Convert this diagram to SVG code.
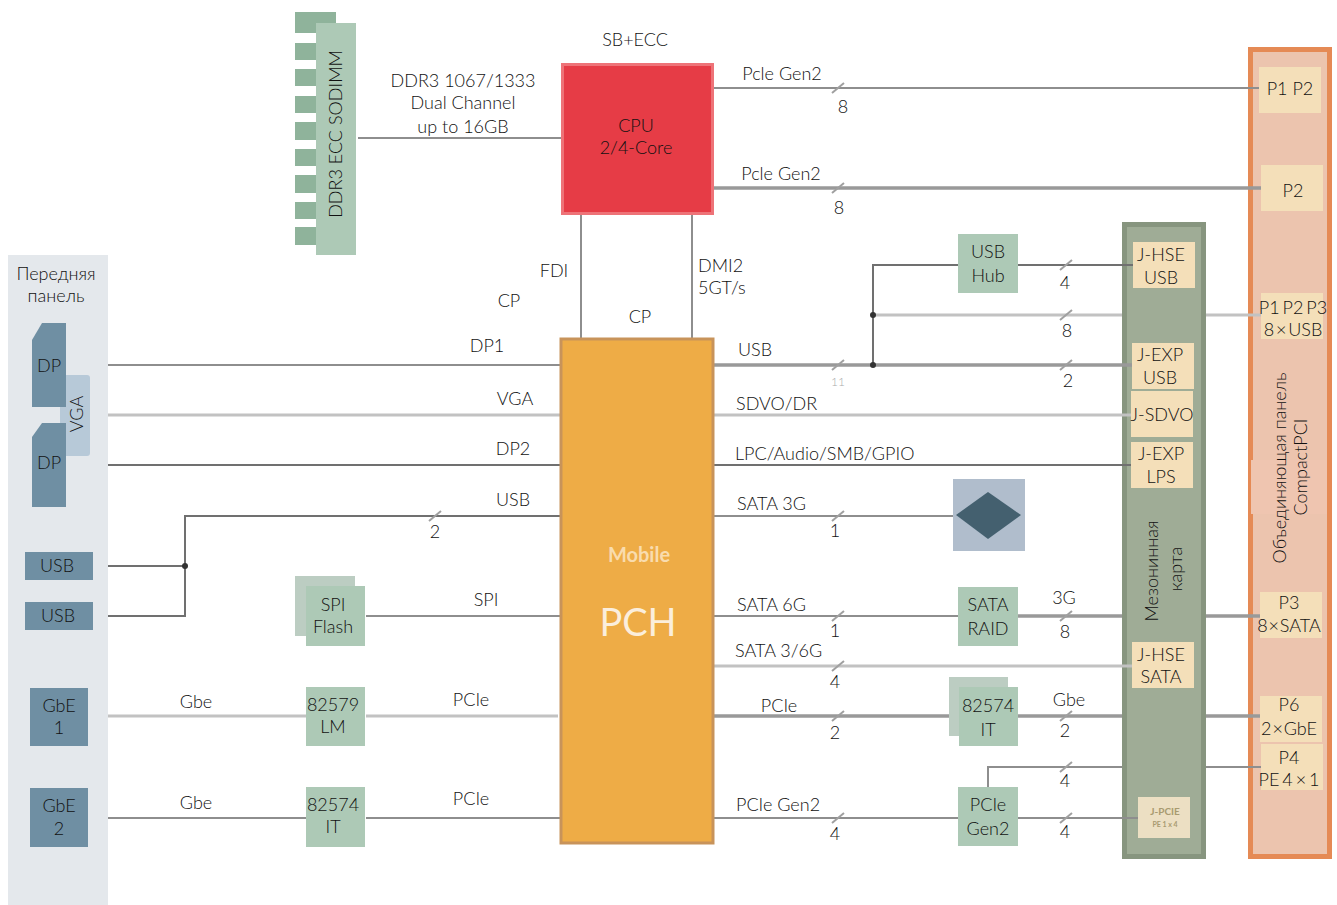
<svg xmlns="http://www.w3.org/2000/svg" width="1337" height="905" viewBox="0 0 1337 905">
<style>
text{font-family:"Lato","Open Sans","Liberation Sans",sans-serif;font-size:18px;font-weight:300;fill:#111;text-anchor:middle}
.s{text-anchor:start}
.g{fill:#adc9b6;stroke:none}
.gb{fill:#bccdc2;stroke:none}
.b{fill:#6f8fa3;stroke:none}
.t{fill:#f4dfb9;stroke:none}
#connectors path{fill:none;stroke:#8e8e8e;stroke-width:2}
#connectors .th{stroke-width:3.5;stroke:#999}
#connectors .d{stroke:#707070;stroke-width:2}
#connectors .l{stroke:#c2c2c2;stroke-width:3}
#connectors .sl{stroke:#a0a0a0;stroke-width:2}
#connectors circle{fill:#333}
</style>
<rect width="1337" height="905" fill="#fff"/>
<g id="front-panel">
<rect x="8" y="255" width="100" height="650" fill="#e4e8ec"/>
<text x="56" y="280">Передняя</text><text x="56" y="302">панель</text>
</g>
<g id="vga"><rect x="60" y="375" width="30" height="81" rx="3" fill="#b7c9d8"/><text transform="translate(83,414) rotate(-90)">VGA</text></g>
<g id="dp1"><path d="M42 323H66V407H32V340Z" fill="#6f8fa3"/><text x="49" y="372">DP</text></g>
<g id="dp2"><path d="M42 423H66V507H32V437Z" fill="#6f8fa3"/><text x="49" y="469">DP</text></g>
<g id="usb1"><rect class="b" x="25" y="552" width="68" height="28"/><text x="57" y="572">USB</text></g>
<g id="usb2"><rect class="b" x="25" y="602" width="68" height="28"/><text x="58" y="622">USB</text></g>
<g id="gbe1"><rect class="b" x="30" y="688" width="58" height="58"/><text x="59" y="712">GbE</text><text x="59" y="734">1</text></g>
<g id="gbe2"><rect class="b" x="30" y="788" width="58" height="59"/><text x="59" y="812">GbE</text><text x="59" y="835">2</text></g>

<g id="mezzanine"><rect x="1124.500" y="224.500" width="79" height="632" fill="#9fac96" stroke="#87957f" stroke-width="5"/>
<text transform="translate(1158,571) rotate(-90)">Мезонинная</text><text transform="translate(1182,569) rotate(-90)">карта</text></g>
<g id="backplane"><rect x="1250.500" y="49.500" width="79" height="807" fill="#ecc4ae" stroke="#e58a55" stroke-width="5"/>
<rect x="1251" y="460" width="76" height="54" fill="#efc5b0"/>
<text transform="translate(1286,468) rotate(-90)">Объединяющая панель</text><text transform="translate(1307,467) rotate(-90)">CompactPCI</text></g>

<g id="connectors">
<path d="M358 138H561"/>
<path d="M581 214V338M692 214V338"/>
<path d="M714 88H1259"/>
<path class="th" d="M714 188H1261"/>
<path d="M108 365H560"/>
<path class="l" d="M108 415H560"/>
<path class="d" d="M108 465H560"/>
<path class="d" d="M108 566H185M108 616H185V516H560"/>
<path d="M366 616H560"/>
<path class="l" d="M108 716H306M366 716H558"/>
<path d="M108 818H306M366 818H560"/>
<path class="th" d="M714 365H1132"/>
<path class="d" d="M873 365V265H958"/>
<path class="d" d="M1018 265H1133"/>
<path class="l" d="M873 315H1122M1206 315H1261"/>
<path class="l" d="M714 415H1131"/>
<path class="d" d="M714 465H1131"/>
<path d="M714 516H953"/>
<path d="M714 616H958"/>
<path class="th" d="M1018 616H1122M1206 616H1260"/>
<path class="l" d="M714 666H1132"/>
<path class="th" d="M714 716H950M1018 716H1122M1206 716H1260"/>
<path d="M988 787V767H1122M1206 767H1261"/>
<path d="M714 818H958M1018 818H1138"/>
<path class="sl" d="M832 93L844 83M832 193L844 183M832 370L844 360M832 521L844 511M832 621L844 611M832 671L844 661M832 721L844 711M832 823L844 813M1060 270L1072 260M1060 320L1072 310M1060 370L1072 360M1060 621L1072 611M1060 721L1072 711M1060 772L1072 762M1060 823L1072 813M429 521L441 511"/>
<circle cx="873" cy="315" r="3"/><circle cx="873" cy="365" r="3"/><circle cx="185" cy="566" r="3"/>
</g>

<g id="dimm">
<path d="M295 12H336V24H316V33H295ZM295 43H316V60H295ZM295 69H316V86H295ZM295 96H316V113H295ZM295 122H316V140H295ZM295 149H316V166H295ZM295 175H316V193H295ZM295 202H316V219H295ZM295 227H316V245H295Z" fill="#8fb39b"/>
<rect class="g" x="316" y="23" width="40" height="232"/>
<text transform="translate(342,134) rotate(-90)">DDR3 ECC SODIMM</text>
</g>
<g id="cpu"><rect x="562.500" y="64.500" width="150" height="149" fill="#e63c46" stroke="#ee7378" stroke-width="3"/><text x="636" y="132">CPU</text><text x="636" y="154">2/4-Core</text></g>
<g id="pch"><rect x="561" y="339" width="152" height="504" fill="#eeac46" stroke="#c8935a" stroke-width="3"/>
<text x="639" y="562" style="font-size:20px;fill:#f9dcae;font-weight:700">Mobile</text><text x="638" y="636" style="font-size:38px;font-weight:400;fill:#fbeedc">PCH</text></g>
<g id="spi"><rect class="gb" x="295" y="576" width="60" height="60"/><rect class="g" x="306" y="586" width="59" height="60"/><text x="333" y="611">SPI</text><text x="333" y="633">Flash</text></g>
<g id="lan82579"><rect class="g" x="306" y="687" width="59" height="59"/><text x="333" y="711">82579</text><text x="333" y="733">LM</text></g>
<g id="lan82574a"><rect class="g" x="306" y="787" width="59" height="60"/><text x="333" y="811">82574</text><text x="333" y="833">IT</text></g>
<g id="usb-hub"><rect class="g" x="958" y="234" width="60" height="59"/><text x="988" y="258">USB</text><text x="988" y="282">Hub</text></g>
<g id="disk"><rect x="953" y="479" width="72" height="72" fill="#b0bdcc"/><path d="M988 492L1021 515L988 539L956 515Z" fill="#44606f"/></g>
<g id="sata-raid"><rect class="g" x="958" y="587" width="60" height="59"/><text x="988" y="611">SATA</text><text x="988" y="635">RAID</text></g>
<g id="lan82574b"><rect class="gb" x="949" y="677" width="59" height="59"/><rect class="g" x="959" y="687" width="59" height="59"/><text x="988" y="712">82574</text><text x="988" y="736">IT</text></g>
<g id="pcie-gen2"><rect class="g" x="958" y="787" width="60" height="59"/><text x="988" y="811">PCIe</text><text x="988" y="835">Gen2</text></g>

<g id="j-hse-usb"><rect class="t" x="1133" y="242" width="62" height="46"/><text x="1161" y="261">J-HSE</text><text x="1161" y="284">USB</text></g>
<g id="j-exp-usb"><rect class="t" x="1132" y="343" width="62" height="46"/><text x="1160" y="361">J-EXP</text><text x="1160" y="384">USB</text></g>
<g id="j-sdvo"><rect class="t" x="1131" y="391" width="62" height="46"/><text x="1162" y="421">J-SDVO</text></g>
<g id="j-exp-lps"><rect class="t" x="1131" y="442" width="62" height="46"/><text x="1161" y="460">J-EXP</text><text x="1161" y="483">LPS</text></g>
<g id="j-hse-sata"><rect class="t" x="1132" y="642" width="62" height="46"/><text x="1161" y="661">J-HSE</text><text x="1161" y="683">SATA</text></g>
<g id="j-pcie"><rect x="1138" y="797" width="52" height="41" fill="#ecdfc3"/><text x="1165" y="815" style="font-size:10px;font-weight:700;fill:#a89a70">J-PCIE</text><text x="1165" y="827" style="font-size:7px;font-weight:700;fill:#a89a70">PE 1 x 4</text></g>

<g id="p1p2"><rect class="t" x="1259" y="67" width="62" height="46"/><text x="1290" y="95">P1 P2</text></g>
<g id="p2"><rect class="t" x="1261" y="165" width="62" height="46"/><text x="1293" y="197">P2</text></g>
<g id="p1p2p3"><rect class="t" x="1261" y="293" width="62" height="46"/><text x="1293" y="314" word-spacing="-2">P1 P2 P3</text><text x="1293" y="336" word-spacing="-3">8 × USB</text></g>
<g id="p3"><rect class="t" x="1260" y="592" width="62" height="46"/><text x="1289" y="609">P3</text><text x="1289" y="632" word-spacing="-4">8 × SATA</text></g>
<g id="p6"><rect class="t" x="1260" y="696" width="62" height="46"/><text x="1289" y="711">P6</text><text x="1289" y="735" word-spacing="-4">2 × GbE</text></g>
<g id="p4"><rect class="t" x="1261" y="744" width="62" height="46"/><text x="1289" y="764">P4</text><text x="1289" y="786" word-spacing="-2">PE 4 × 1</text></g>

<g id="labels">
<text x="635" y="46">SB+ECC</text>
<text x="782" y="80">Pcle Gen2</text><text x="781" y="180">Pcle Gen2</text>
<text x="843" y="113">8</text><text x="839" y="214">8</text>
<text x="463" y="87">DDR3 1067/1333</text><text x="463" y="109">Dual Channel</text><text x="463" y="133">up to 16GB</text>
<text x="554" y="277">FDI</text><text x="509" y="307">CP</text><text x="640" y="323">CP</text>
<text class="s" x="698" y="272">DMI2</text><text class="s" x="698" y="294">5GT/s</text>
<text x="487" y="352">DP1</text><text x="515" y="405">VGA</text><text x="513" y="455">DP2</text><text x="513" y="506">USB</text>
<text x="435" y="538">2</text><text x="486" y="606">SPI</text>
<text x="471" y="706">PCIe</text><text x="471" y="805">PCIe</text>
<text x="196" y="708">Gbe</text><text x="196" y="809">Gbe</text>
<text class="s" x="738" y="356">USB</text><text x="838" y="386" style="font-size:12px;fill:#aaa">11</text>
<text class="s" x="736" y="410">SDVO/DR</text><text class="s" x="735" y="460">LPC/Audio/SMB/GPIO</text>
<text class="s" x="737" y="510">SATA 3G</text><text x="835" y="537">1</text>
<text class="s" x="737" y="611">SATA 6G</text><text x="835" y="637">1</text>
<text class="s" x="735" y="657">SATA 3/6G</text><text x="835" y="688">4</text>
<text x="779" y="712">PCIe</text><text x="835" y="739">2</text>
<text class="s" x="736" y="811">PCIe Gen2</text><text x="835" y="840">4</text>
<text x="1065" y="289">4</text><text x="1067" y="337">8</text><text x="1068" y="387">2</text>
<text x="1064" y="604">3G</text><text x="1065" y="638">8</text>
<text x="1069" y="706">Gbe</text><text x="1065" y="737">2</text>
<text x="1065" y="787">4</text><text x="1065" y="838">4</text>
</g>
</svg>
